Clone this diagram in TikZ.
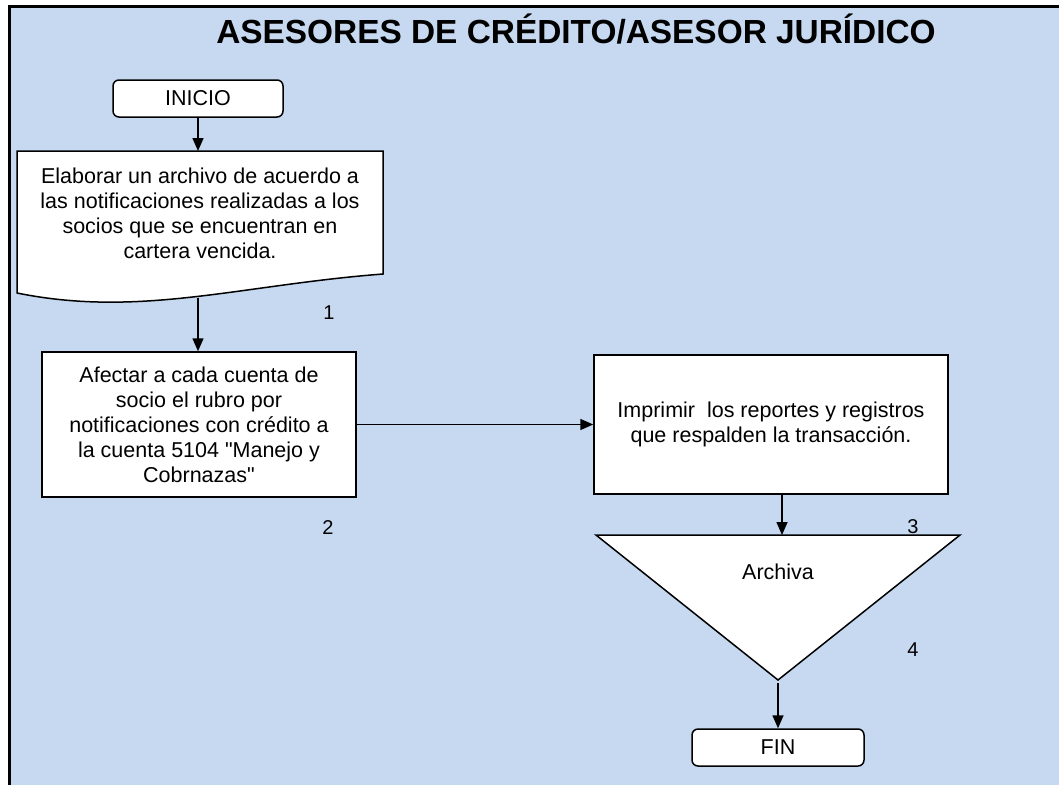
\documentclass[tikz,border=0pt]{standalone}
\usepackage{fontspec}
\setmainfont{Liberation Sans}
\usetikzlibrary{arrows.meta,positioning}
\definecolor{panelblue}{RGB}{198,217,240}

\begin{document}
\begin{tikzpicture}[x=1pt,y=-1pt,>={Triangle[length=13pt,width=11pt]},
  every node/.style={font=\fontsize{21.5}{25}\selectfont},
  proc/.style={draw,fill=white,line width=1.5pt,align=center,inner sep=0pt},
  term/.style={proc,rounded corners=6pt,minimum width=170pt,minimum height=37pt},
  flow/.style={->,line width=1.5pt},
  stepnum/.style={font=\fontsize{20}{22}\selectfont}]
  \useasboundingbox (0,0) rectangle (1059,785);
  % ---- panel and frame ----
  \fill[panelblue] (8,5) rectangle (1059,785);
  \draw[line width=3pt] (9.5,785) -- (9.5,6.5) -- (1059,6.5);
  \node[font=\bfseries\fontsize{33.4}{36}\selectfont] (title) at (576,29)
    {ASESORES DE CRÉDITO/ASESOR JURÍDICO};
  % ---- left column ----
  \node[term] (inicio) at (198,98.5) {INICIO};
  % document shape (wavy bottom)
  \filldraw[fill=white,line width=1.5pt] (17,293) -- (17,151) -- (383,151) -- (383,274)
    .. controls (240,285) and (140,318) .. (17,293) -- cycle;
  \node[align=center] (doc) at (200,213)
    {Elaborar un archivo de acuerdo a\\las notificaciones realizadas a los\\
     socios que se encuentran en\\cartera vencida.};
  \coordinate (doctop) at (198,151);
  \coordinate (docbot) at (198,298);
  \node[stepnum] (n1) at (329,313) {1};
  \node[proc,minimum width=314pt,minimum height=145pt] (afectar) at (199,424.5)
    {Afectar a cada cuenta de\\socio el rubro por\\notificaciones con crédito a\\
     la cuenta 5104 \textquotedbl Manejo y\\Cobrnazas\textquotedbl};
  \node[stepnum] (n2) at (328,528) {2};
  % ---- right column ----
  \node[proc,minimum width=354pt,minimum height=139pt] (imprimir) at (771,424.5)
    {Imprimir\ \ los reportes y registros\\que respalden la transacción.};
  \filldraw[fill=white,line width=1.5pt] (596,535) -- (960,535) -- (778,680) -- cycle;
  \node (archiva) at (778,572) {Archiva};
  \coordinate (tritop) at (782,535);
  \coordinate (triapex) at (778,683);
  \node[stepnum] (n3) at (913,527) {3};
  \node[stepnum] (n4) at (913,650) {4};
  \node[term,minimum width=172pt] (fin) at (778,747.5) {FIN};
  % ---- connectors ----
  \draw[flow] (inicio.south) -- (inicio.south |- doctop);
  \draw[flow] (docbot) -- (docbot |- afectar.north);
  \draw[flow] (afectar.east) -- (imprimir.west);
  \draw[flow] (imprimir.south -| tritop) -- (tritop);
  \draw[flow] (triapex) -- (fin.north);
\end{tikzpicture}
\end{document}
